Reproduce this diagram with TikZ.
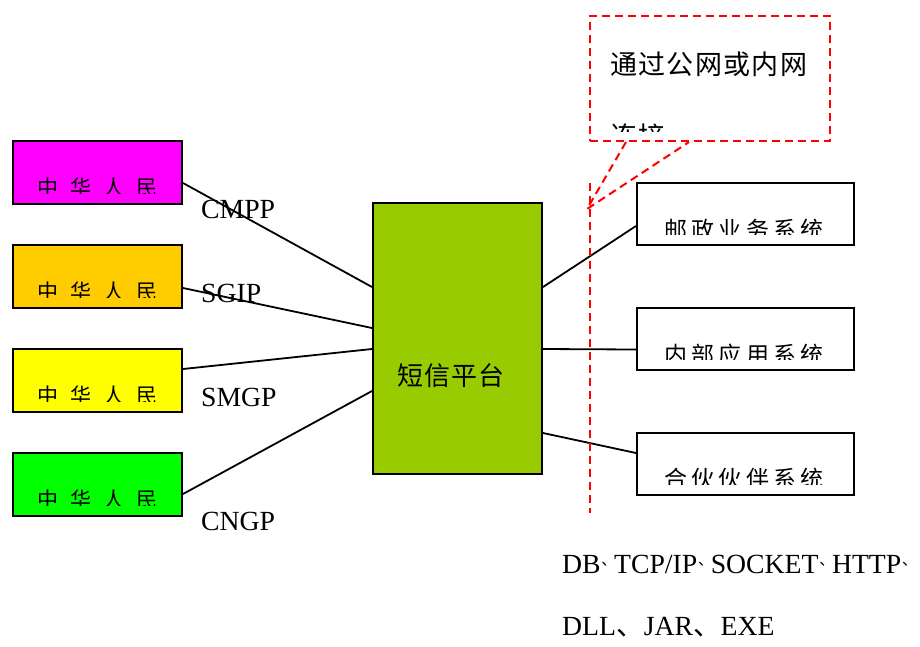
\documentclass[tikz,border=0pt]{standalone}
\usepackage{fontspec}
\setmainfont{Liberation Serif}
\newfontfamily\cjk{Noto Sans CJK SC}
\newfontfamily\cjkA[LetterSpace=18]{Noto Sans CJK SC}
\newfontfamily\cjkB[LetterSpace=5]{Noto Sans CJK SC}
\definecolor{cmag}{HTML}{FF00FF}
\definecolor{corange}{HTML}{FFCC00}
\definecolor{cyellow}{HTML}{FFFF00}
\definecolor{cgreen}{HTML}{00FF00}
\definecolor{cplat}{HTML}{99CC00}
\newcommand\dunA{\makebox[13.5pt][c]{\hspace{3pt}\raisebox{8pt}{\cjk\fontsize{15}{15}\selectfont 、}}}
\newcommand\dunB{{\cjk 、}}
\begin{document}
\begin{tikzpicture}[x=1pt,y=-1pt,
  box/.style={draw=black,line width=2pt,rectangle,inner sep=0pt},
  lbox/.style={box,minimum width=169pt,minimum height=63pt},
  rbox/.style={box,fill=white,minimum width=217pt,minimum height=62pt},
  conn/.style={draw=black,line width=1.8pt},
  reddash/.style={draw=red,line width=2pt,dash pattern=on 8pt off 5pt},
  lbl/.style={anchor=base west,inner sep=0pt,font=\fontsize{27.7}{30}\selectfont},
  ltxt/.style={inner sep=0pt,font=\cjk\fontsize{21}{24}\selectfont},
  rtxt/.style={inner sep=0pt,font=\cjkA\fontsize{23}{26}\selectfont},
  btxt/.style={inner sep=0pt,font=\cjkB\fontsize{27}{30}\selectfont}]
\useasboundingbox (0,0) rectangle (920,646);
\fill[white] (0,0) rectangle (920,646);

% left boxes
\node[lbox,fill=cmag]    (l1) at (97.5,172.5) {};
\node[lbox,fill=corange] (l2) at (97.5,276.5) {};
\node[lbox,fill=cyellow] (l3) at (97.5,380.5) {};
\node[lbox,fill=cgreen]  (l4) at (97.5,484.5) {};
\begin{scope}\clip (13,141) rectangle (182,193);
\node[ltxt] (t1) at (97.5,187.5) {中\hspace{12pt}华\hspace{12pt}人\hspace{12pt}民};\end{scope}
\begin{scope}\clip (13,245) rectangle (182,297);
\node[ltxt] (t2) at (97.5,291.5) {中\hspace{12pt}华\hspace{12pt}人\hspace{12pt}民};\end{scope}
\begin{scope}\clip (13,349) rectangle (182,401);
\node[ltxt] (t3) at (97.5,395.5) {中\hspace{12pt}华\hspace{12pt}人\hspace{12pt}民};\end{scope}
\begin{scope}\clip (13,453) rectangle (182,505);
\node[ltxt] (t4) at (97.5,499.5) {中\hspace{12pt}华\hspace{12pt}人\hspace{12pt}民};\end{scope}

% platform
\node[box,fill=cplat,minimum width=169pt,minimum height=271pt] (c) at (457.5,338.5) {};
\node[btxt] (ct) at (451,376) {\addfontfeature{LetterSpace=4}\fontsize{26}{28}\selectfont 短信平台};

% right boxes
\node[rbox] (r1) at (745.5,214) {};
\node[rbox] (r2) at (745.5,339) {};
\node[rbox] (r3) at (745.5,463.5) {};
\begin{scope}\clip (637,183) rectangle (854,234);
\node[rtxt] (rt1) at (744,229.5) {邮政业务系统};\end{scope}
\begin{scope}\clip (637,308) rectangle (854,359.5);
\node[rtxt] (rt2) at (744,354.5) {内部应用系统};\end{scope}
\begin{scope}\clip (637,432) rectangle (854,484);
\node[rtxt] (rt3) at (744,478.5) {合伙伙伴系统};\end{scope}

% connectors left
\draw[conn] ([yshift=-10.5pt]l1.east) -- ([yshift=51.5pt]c.west);
\draw[conn] ([yshift=-11.5pt]l2.east) -- ([yshift=10.5pt]c.west);
\draw[conn] ([yshift=11.5pt]l3.east) -- ([yshift=-10.5pt]c.west);
\draw[conn] ([yshift=-9.5pt]l4.east) -- ([yshift=-52.5pt]c.west);
% connectors right
\draw[conn] ([yshift=51.5pt]c.east) -- ([yshift=-12pt]r1.west);
\draw[conn] ([yshift=-10.5pt]c.east) -- ([yshift=-10.5pt]r2.west);
\draw[conn] ([yshift=-94.5pt]c.east) -- ([yshift=10.5pt]r3.west);

% protocol labels
\node[lbl] (p1) at (201,218) {CMPP};
\node[lbl] (p2) at (201,302) {SGIP};
\node[lbl] (p3) at (201,406) {SMGP};
\node[lbl] (p4) at (201,530) {CNGP};

% callout
\node[reddash,rectangle,minimum width=240pt,minimum height=125pt,inner sep=0pt] (call) at (710,78.5) {};
\node[btxt,anchor=west] (ct1) at (610,64) {通过公网或内网};
\begin{scope}\clip (592,100) rectangle (828,131);
\node[btxt,anchor=west] (ct2) at (610,136) {连接};\end{scope}
\coordinate (tip) at (587,209);
\draw[reddash] ([xshift=37pt]call.south west) -- (tip) -- ([xshift=100pt]call.south west);
\coordinate (v1) at (590,183);
\coordinate (v2) at (590,513);
\draw[reddash] (v1) -- (v2);

% bottom text
\node[lbl] (b1) at (562,573) {DB\dunA TCP/IP\dunA SOCKET\dunA HTTP\dunA};
\node[lbl] (b2) at (562,635) {DLL\dunB JAR\dunB EXE};
\end{tikzpicture}
\end{document}
